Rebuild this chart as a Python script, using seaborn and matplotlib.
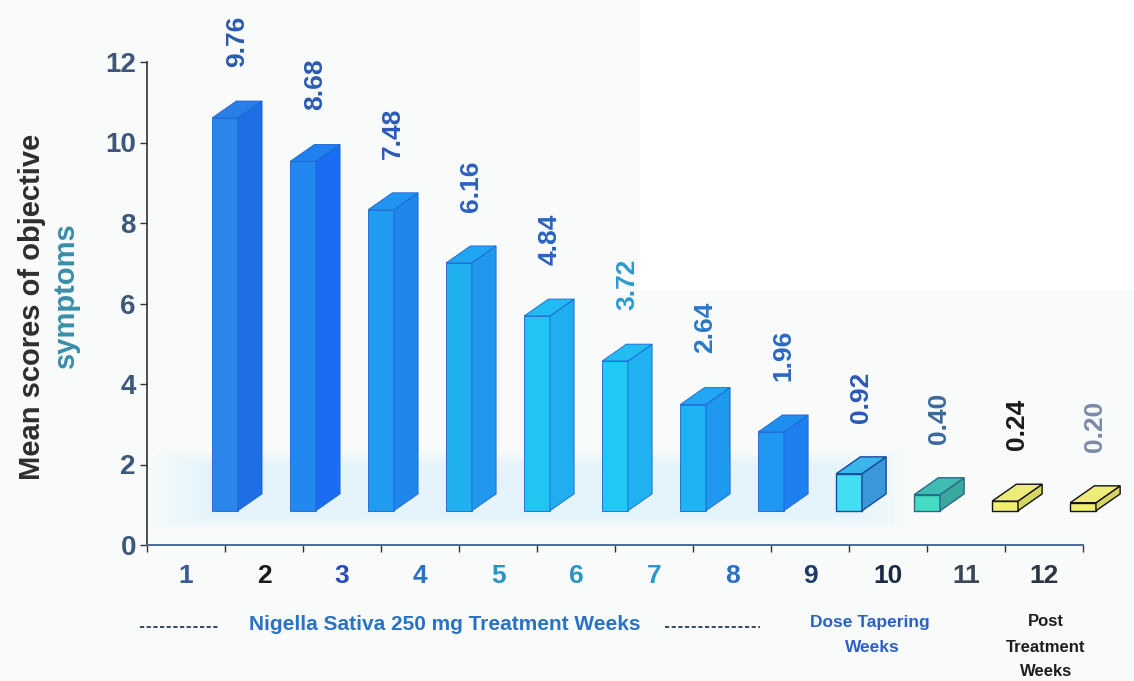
import numpy as np
import matplotlib
matplotlib.use("Agg")
import matplotlib.pyplot as plt
from matplotlib.patches import Polygon, Rectangle
from matplotlib.lines import Line2D
import seaborn as sns

# ---- data -------------------------------------------------------------
weeks = ["1", "2", "3", "4", "5", "6", "7", "8", "9", "10", "11", "12"]
scores = [9.76, 8.68, 7.48, 6.16, 4.84, 3.72, 2.64, 1.96, 0.92, 0.40, 0.24, 0.20]
y_ticks = [0, 2, 4, 6, 8, 10, 12]

# ---- styling ----------------------------------------------------------
front_colors = ["#2a86ea", "#2288f0", "#1f9cf0", "#20b0f0", "#22c4f2", "#22c8f4",
                "#1fb2f2", "#1e98f0", "#44def4", "#44dcc4", "#f2ee72", "#f2ee72"]
side_colors = ["#1f6ee6", "#1a6cf0", "#1f86ee", "#2198ee", "#20aef0", "#20b2f0",
               "#1f98f0", "#1e80ee", "#3a98d8", "#3aa89e", "#d6d462", "#d6d462"]
top_colors = ["#2a7ee8", "#2080f0", "#2094f0", "#20a6f0", "#22baf2", "#22bcf2",
              "#20a6f2", "#1e8ef0", "#3ab6ec", "#40bcb2", "#eeec78", "#eeec78"]
edge_colors = ["#1a64d0"] * 8 + ["#1a4a9a", "#2a6a8a", "#111111", "#111111"]
tick_colors = ["#3a5a9a", "#1a1a1a", "#2a4ab8", "#2a72c4", "#2a94c8", "#2a94c4",
               "#2a98c8", "#2a70c0", "#1a3a6a", "#1a2a44", "#3a4656", "#2a3444"]
value_colors = ["#2a5ab0", "#2a5ab8", "#2a5ab8", "#2a60c0", "#2a64c0", "#2a9ad0",
                "#2a78c8", "#2a68c4", "#2a58b8", "#3a6a9a", "#1a1a1a", "#7a8aa8"]

BASE = 0.85          # floor level of the 3-D bars
DEPTH_X = 0.31       # oblique depth of bars, x units
DEPTH_Y = 0.42       # oblique depth of bars, y units
BAR_W = 0.33

sns.set_theme(style="white")
plt.rcParams["font.family"] = ["Liberation Sans", "DejaVu Sans"]

fig = plt.figure(figsize=(11.34, 6.81), dpi=100, facecolor="#f9fafa")
fig.patches.append(Rectangle((640 / 1134, 1 - 290 / 681), 1, 1, transform=fig.transFigure,
                             facecolor="white", edgecolor="none", zorder=0))
ax = fig.add_axes([147 / 1134, 136 / 681, 979 / 1134, 483 / 681])
ax.set_facecolor("none")

positions = np.arange(1, len(scores) + 1, dtype=float)

# faint cyan floor haze behind the bars
for k in range(6):
    pad = 0.12 * k
    ax.add_patch(Rectangle((0.7 - pad, 0.7 - pad * 0.5), 8.4 + 2 * pad, 1.3 + pad,
                           facecolor="#d2f2fa", edgecolor="none", alpha=0.10, zorder=0))

sns.barplot(x=positions, y=scores, hue=weeks, palette=dict(zip(weeks, front_colors)),
            native_scale=True, width=BAR_W, bottom=BASE, errorbar=None, legend=False,
            saturation=1, linewidth=0.8, ax=ax, zorder=3)

bars = sorted([p for p in ax.patches if isinstance(p, Rectangle) and p.get_width() < 1],
              key=lambda p: p.get_x())
for i, p in enumerate(bars):
    x0, y0, w, h = p.get_x(), p.get_y(), p.get_width(), p.get_height()
    p.set_edgecolor(edge_colors[i])
    p.set_linewidth(1.0 if i >= 8 else 0.6)
    x1, y1 = x0 + w, y0 + h
    side = Polygon([(x1, y0), (x1, y1), (x1 + DEPTH_X, y1 + DEPTH_Y), (x1 + DEPTH_X, y0 + DEPTH_Y)],
                   closed=True, facecolor=side_colors[i], edgecolor=edge_colors[i],
                   linewidth=p.get_linewidth(), zorder=3, clip_on=False)
    top = Polygon([(x0, y1), (x1, y1), (x1 + DEPTH_X, y1 + DEPTH_Y), (x0 + DEPTH_X, y1 + DEPTH_Y)],
                  closed=True, facecolor=top_colors[i], edgecolor=edge_colors[i],
                  linewidth=p.get_linewidth(), zorder=3, clip_on=False)
    ax.add_patch(side)
    ax.add_patch(top)
    p.set_clip_on(False)
    ax.text(x0 + (w + DEPTH_X) / 2, y1 + DEPTH_Y + 0.85, f"{scores[i]:.2f}", rotation=90,
            ha="center", va="bottom", fontsize=19, fontweight="bold",
            color=value_colors[i], clip_on=False)

# ---- axes -------------------------------------------------------------
ax.set_xlim(0, 12.55)
ax.set_ylim(0, 12)
for s in ["top", "right"]:
    ax.spines[s].set_visible(False)
ax.spines["left"].set_color("#333333")
ax.spines["left"].set_linewidth(1.2)
ax.spines["bottom"].set_color("#4a6a9a")
ax.spines["bottom"].set_linewidth(1.4)
ax.spines["bottom"].set_bounds(0, 12)

ax.set_yticks(y_ticks)
ax.set_yticklabels([str(t) for t in y_ticks], fontsize=20, fontweight="bold", color="#3d5878")
ax.tick_params(axis="y", length=5, width=1, color="#333333", left=True, pad=3)

ax.set_xticks(np.arange(0, 13))
ax.set_xticklabels([])
ax.tick_params(axis="x", which="major", length=5, width=1, color="#333333", bottom=True)
ax.set_xticks(positions - 0.5, minor=True)
ax.set_xticklabels(weeks, minor=True, fontsize=19, fontweight="bold")
ax.tick_params(axis="x", which="minor", length=0, pad=14)
for lbl, c in zip(ax.get_xticklabels(minor=True), tick_colors):
    lbl.set_color(c)
ax.set_xlabel("")
ax.set_ylabel("")

# ---- axis title (two coloured lines) ----------------------------------
fig.text(32 / 1134, 1 - 307 / 681, "Mean scores of objective", rotation=90, ha="center",
         va="center", fontsize=21, fontweight="bold", color="#2e2e2e")
fig.text(66 / 1134, 1 - 295 / 681, "symptoms", rotation=90, ha="center",
         va="center", fontsize=21, fontweight="bold", color="#3a8ea8")

# ---- phase annotations below the axis ---------------------------------
fig.text(445 / 1134, 1 - 625 / 681, "Nigella Sativa 250 mg Treatment Weeks", ha="center",
         va="center", fontsize=15, fontweight="bold", color="#2a72c4")
for xa, xb in [(140, 218), (665, 760)]:
    fig.add_artist(Line2D([xa / 1134, xb / 1134], [1 - 627 / 681] * 2, transform=fig.transFigure,
                          color="#1a2a4a", linewidth=1.2, linestyle=(0, (2.5, 1.5))))
fig.text(870 / 1134, 1 - 622 / 681, "Dose Tapering", ha="center", va="center",
         fontsize=12.5, fontweight="bold", color="#2a60c8")
fig.text(872 / 1134, 1 - 647 / 681, "Weeks", ha="center", va="center",
         fontsize=12.5, fontweight="bold", color="#2a60c8")
for txt, yy in [("Post", 622), ("Treatment", 647), ("Weeks", 672)]:
    fig.text(1046 / 1134, 1 - yy / 681, txt, ha="center", va="center",
             fontsize=12, fontweight="bold", color="#1e1e1e")

fig.savefig("out.png", dpi=100, facecolor=fig.get_facecolor())
